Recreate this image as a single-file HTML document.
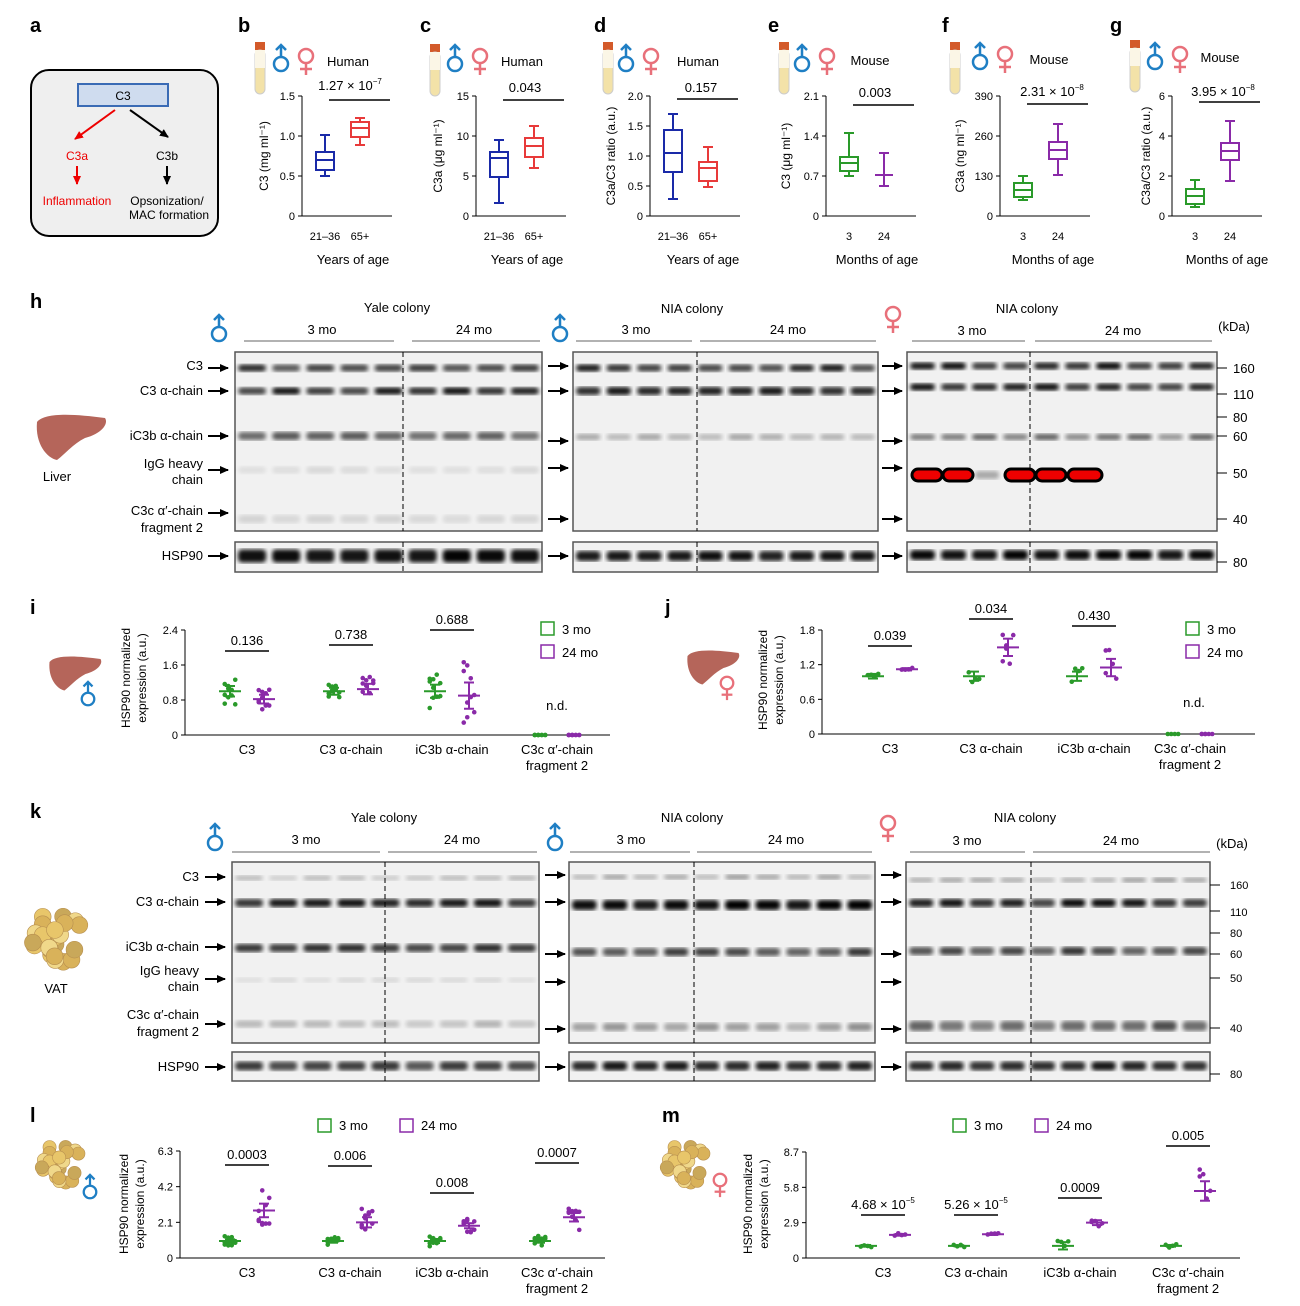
<!DOCTYPE html><html><head><meta charset="utf-8"><style>
body{margin:0;background:#fff}svg{display:block;font-family:"Liberation Sans",sans-serif}
</style></head><body>
<svg id="s" width="1300" height="1306" viewBox="0 0 1300 1306" xmlns="http://www.w3.org/2000/svg">
<defs>
<marker id="ab" markerUnits="userSpaceOnUse" markerWidth="10" markerHeight="10" refX="8" refY="5" orient="auto"><path d="M0,1 L9,5 L0,9z" fill="#000"/></marker>
<marker id="ar" markerUnits="userSpaceOnUse" markerWidth="10" markerHeight="10" refX="8" refY="5" orient="auto"><path d="M0,1 L9,5 L0,9z" fill="#e00"/></marker>
<filter id="bl"><feGaussianBlur stdDeviation="2"/></filter>
</defs>
<g font-weight="bold" font-size="20">
<text x="30" y="32">a</text><text x="238" y="32">b</text><text x="420" y="32">c</text><text x="594" y="32">d</text><text x="768" y="32">e</text><text x="942" y="32">f</text><text x="1110" y="32">g</text>
<text x="30" y="308">h</text><text x="30" y="614">i</text><text x="665" y="614">j</text><text x="30" y="818">k</text><text x="30" y="1122">l</text><text x="662" y="1122">m</text>
</g>
<rect x="31" y="70" width="187" height="166" rx="18" fill="#efefef" stroke="#000" stroke-width="2"/>
<rect x="78" y="84" width="90" height="22" fill="#cfdcef" stroke="#3a6bb5" stroke-width="2"/>
<text x="123" y="100" font-size="12" text-anchor="middle">C3</text>
<line x1="115" y1="110" x2="75" y2="139" stroke="#e00" stroke-width="2" marker-end="url(#ar)"/>
<line x1="130" y1="110" x2="168" y2="137" stroke="#000" stroke-width="2" marker-end="url(#ab)"/>
<g font-size="12" text-anchor="middle"><text x="77" y="160" fill="#e00">C3a</text><text x="167" y="160">C3b</text>
<text x="77" y="205" fill="#e00">Inflammation</text><text x="167" y="205">Opsonization/</text><text x="169" y="219">MAC formation</text></g>
<line x1="77" y1="166" x2="77" y2="184" stroke="#e00" stroke-width="2" marker-end="url(#ar)"/>
<line x1="167" y1="166" x2="167" y2="184" stroke="#000" stroke-width="2" marker-end="url(#ab)"/>
<g id="dyn"></g>
<g font-size="13" text-anchor="middle">
<text x="353" y="264">Years of age</text><text x="527" y="264">Years of age</text><text x="703" y="264">Years of age</text>
<text x="877" y="264">Months of age</text><text x="1053" y="264">Months of age</text><text x="1227" y="264">Months of age</text>
<text x="348" y="66">Human</text><text x="522" y="66">Human</text><text x="698" y="66">Human</text><text x="870" y="65">Mouse</text><text x="1049" y="64">Mouse</text><text x="1220" y="62">Mouse</text>
<text x="350" y="90">1.27 × 10<tspan font-size="8" dy="-6">−7</tspan></text><text x="525" y="92">0.043</text><text x="701" y="92">0.157</text><text x="875" y="97">0.003</text><text x="1052" y="96">2.31 × 10<tspan font-size="8" dy="-6">−8</tspan></text><text x="1223" y="96">3.95 × 10<tspan font-size="8" dy="-6">−8</tspan></text>
</g>
<g font-size="12" text-anchor="middle">
<text transform="translate(268,156) rotate(-90)">C3 (mg ml⁻¹)</text><text transform="translate(442,156) rotate(-90)">C3a (μg ml⁻¹)</text><text transform="translate(615,156) rotate(-90)">C3a/C3 ratio (a.u.)</text>
<text transform="translate(790,156) rotate(-90)">C3 (μg ml⁻¹)</text><text transform="translate(964,156) rotate(-90)">C3a (ng ml⁻¹)</text><text transform="translate(1150,156) rotate(-90)">C3a/C3 ratio (a.u.)</text>
<text transform="translate(130,678) rotate(-90)">HSP90 normalized</text><text transform="translate(146,678) rotate(-90)">expression (a.u.)</text>
<text transform="translate(767,680) rotate(-90)">HSP90 normalized</text><text transform="translate(783,680) rotate(-90)">expression (a.u.)</text>
<text transform="translate(128,1204) rotate(-90)">HSP90 normalized</text><text transform="translate(144,1204) rotate(-90)">expression (a.u.)</text>
<text transform="translate(752,1204) rotate(-90)">HSP90 normalized</text><text transform="translate(768,1204) rotate(-90)">expression (a.u.)</text>
</g>
<g font-size="13" text-anchor="middle">
<text x="397" y="312">Yale colony</text><text x="692" y="313">NIA colony</text><text x="1027" y="313">NIA colony</text>
<text x="322" y="334">3 mo</text><text x="474" y="334">24 mo</text><text x="636" y="334">3 mo</text><text x="788" y="334">24 mo</text><text x="972" y="335">3 mo</text><text x="1123" y="335">24 mo</text><text x="1234" y="331">(kDa)</text>
<text x="384" y="822">Yale colony</text><text x="692" y="822">NIA colony</text><text x="1025" y="822">NIA colony</text>
<text x="306" y="844">3 mo</text><text x="462" y="844">24 mo</text><text x="631" y="844">3 mo</text><text x="786" y="844">24 mo</text><text x="967" y="845">3 mo</text><text x="1121" y="845">24 mo</text><text x="1232" y="848">(kDa)</text>
<text x="57" y="481">Liver</text><text x="56" y="993">VAT</text>
</g>
<g font-size="13" text-anchor="end">
<text x="203" y="370">C3</text><text x="203" y="395">C3 α-chain</text><text x="203" y="440">iC3b α-chain</text><text x="203" y="468">IgG heavy</text><text x="203" y="484">chain</text><text x="203" y="515">C3c α′-chain</text><text x="203" y="532">fragment 2</text><text x="203" y="560">HSP90</text>
<text x="199" y="881">C3</text><text x="199" y="906">C3 α-chain</text><text x="199" y="951">iC3b α-chain</text><text x="199" y="975">IgG heavy</text><text x="199" y="991">chain</text><text x="199" y="1019">C3c α′-chain</text><text x="199" y="1036">fragment 2</text><text x="199" y="1071">HSP90</text>
</g>
<g font-size="13"><text x="1233" y="373">160</text><text x="1233" y="399">110</text><text x="1233" y="422">80</text><text x="1233" y="441">60</text><text x="1233" y="478">50</text><text x="1233" y="524">40</text><text x="1233" y="567">80</text></g>
<g font-size="11"><text x="1230" y="889">160</text><text x="1230" y="916">110</text><text x="1230" y="937">80</text><text x="1230" y="958">60</text><text x="1230" y="982">50</text><text x="1230" y="1032">40</text><text x="1230" y="1078">80</text></g>
<g font-size="13">
<rect x="541" y="622" width="13" height="13" fill="none" stroke="#2a9a2a" stroke-width="1.5"/><text x="562" y="634">3 mo</text>
<rect x="541" y="645" width="13" height="13" fill="none" stroke="#8a2aa8" stroke-width="1.5"/><text x="562" y="657">24 mo</text>
<rect x="1186" y="622" width="13" height="13" fill="none" stroke="#2a9a2a" stroke-width="1.5"/><text x="1207" y="634">3 mo</text>
<rect x="1186" y="645" width="13" height="13" fill="none" stroke="#8a2aa8" stroke-width="1.5"/><text x="1207" y="657">24 mo</text>
<rect x="318" y="1119" width="13" height="13" fill="none" stroke="#2a9a2a" stroke-width="1.5"/><text x="339" y="1130">3 mo</text>
<rect x="400" y="1119" width="13" height="13" fill="none" stroke="#8a2aa8" stroke-width="1.5"/><text x="421" y="1130">24 mo</text>
<rect x="953" y="1119" width="13" height="13" fill="none" stroke="#2a9a2a" stroke-width="1.5"/><text x="974" y="1130">3 mo</text>
<rect x="1035" y="1119" width="13" height="13" fill="none" stroke="#8a2aa8" stroke-width="1.5"/><text x="1056" y="1130">24 mo</text>
<text x="557" y="710" text-anchor="middle">n.d.</text><text x="1194" y="707" text-anchor="middle">n.d.</text>
</g>
</svg>
<script>
const S=document.getElementById('dyn');let h='';
const B='#1f7fc4',P='#e8707a',G='#2a9a2a',U='#8a2aa8';
function male(x,y,s){s=s||1;h+=`<g stroke="${B}" stroke-width="${2.5*s}" fill="none"><circle cx="${x}" cy="${y}" r="${7*s}"/><line x1="${x}" y1="${y-7*s}" x2="${x}" y2="${y-19*s}"/><polyline points="${x-5*s},${y-14*s} ${x},${y-19*s} ${x+5*s},${y-14*s}"/></g>`}
function fem(x,y,s){s=s||1;h+=`<g stroke="${P}" stroke-width="${2.5*s}" fill="none"><circle cx="${x}" cy="${y}" r="${7*s}"/><line x1="${x}" y1="${y+7*s}" x2="${x}" y2="${y+19*s}"/><line x1="${x-6*s}" y1="${y+13*s}" x2="${x+6*s}" y2="${y+13*s}"/></g>`}
function tube(x,y){h+=`<rect x="${x}" y="${y}" width="10" height="8" fill="#d35a2a"/><rect x="${x}" y="${y+8}" width="10" height="44" rx="5" fill="#f3e2a8" stroke="#ccc"/><rect x="${x}" y="${y+8}" width="10" height="18" fill="#fbf6e6"/>`}
function t(x,y,s,a,fs){h+=`<text x="${x}" y="${y}" font-size="${fs||11}" text-anchor="${a||'middle'}">${s}</text>`}
function box(ax,top,bot,ticks,lbl,xl,b1,b2,c1,c2,bar){
 h+=`<path d="M${ax},${top} V${bot} H${ax+90}" stroke="#000" fill="none"/>`;
 ticks.forEach((v,i)=>{let y=bot-(bot-top)*i/(ticks.length-1);h+=`<line x1="${ax-4}" x2="${ax}" y1="${y}" y2="${y}" stroke="#000"/>`;t(ax-7,y+4,v,'end')});
 [[ax+23,b1,c1],[ax+58,b2,c2]].forEach(([x,b,c],i)=>{h+=`<g stroke="${c}" stroke-width="2" fill="none"><line x1="${x}" x2="${x}" y1="${b[0]}" y2="${b[4]}"/><line x1="${x-5}" x2="${x+5}" y1="${b[0]}" y2="${b[0]}"/><line x1="${x-5}" x2="${x+5}" y1="${b[4]}" y2="${b[4]}"/><rect x="${x-9}" y="${b[1]}" width="18" height="${b[3]-b[1]}" fill="#fff"/><line x1="${x-9}" x2="${x+9}" y1="${b[2]}" y2="${b[2]}"/></g>`;t(x,bot+24,xl[i])});
 h+=`<line x1="${ax+27}" x2="${ax+88}" y1="${bar}" y2="${bar}" stroke="#000" stroke-width="1.5"/>`;
}
box(302,96,216,['0','0.5','1.0','1.5'],'',['21–36','65+'],[135,152,160,170,176],[118,122,128,137,145],'#1a2aa8','#e83a3a',100);
box(476,96,216,['0','5','10','15'],'',['21–36','65+'],[140,152,158,177,203],[126,138,146,157,168],'#1a2aa8','#e83a3a',100);
box(650,96,216,['0','0.5','1.0','1.5','2.0'],'',['21–36','65+'],[114,130,153,172,199],[147,162,168,181,187],'#1a2aa8','#e83a3a',99);
box(826,96,216,['0','0.7','1.4','2.1'],'',['3','24'],[133,157,163,171,176],[153,175,175,175,186],G,U,105);
box(1000,96,216,['0','130','260','390'],'',['3','24'],[176,183,190,197,200],[124,142,150,159,175],G,U,104);
box(1172,96,216,['0','2','4','6'],'',['3','24'],[180,189,196,204,207],[121,143,151,160,181],G,U,102);
[[255,42],[430,44],[603,42],[779,42],[950,42],[1130,40]].forEach(([x,y])=>tube(x,y));
[[281,64],[455,64],[626,64],[802,64],[980,62],[1155,62]].forEach(([x,y])=>{male(x,y);fem(x+25,y-8)});
function rnd(i){let x=Math.sin(i*12.9898)*43758.5;return x-Math.floor(x)}
let seed=1;
function blot(x0,x1,y0,y1,lanes,rows,div){
 h+=`<rect x="${x0}" y="${y0}" width="${x1-x0}" height="${y1-y0}" fill="#f1f1f1" stroke="#555" stroke-width="1.5"/>`;
 let w=(x1-x0)/lanes;
 rows.forEach(([y,th,op,va])=>{for(let i=0;i<lanes;i++){let o=Math.min(1,op*(1-va/2+va*rnd(seed++)));h+=`<rect x="${x0+i*w+3}" y="${y-th/2}" width="${w-6}" height="${th}" rx="4" fill="#000" opacity="${o.toFixed(2)}" filter="url(#bl)"/>`}});
 if(div)h+=`<line x1="${div}" x2="${div}" y1="${y0}" y2="${y1}" stroke="#000" stroke-dasharray="5,3"/>`;
}
function ar(x,y){h+=`<line x1="${x}" x2="${x+20}" y1="${y}" y2="${y}" stroke="#000" stroke-width="2" marker-end="url(#ab)"/>`}
const hr=[[368,7,.75,.3],[391,7,.85,.3],[436,8,.6,.3],[470,7,.08,.5],[519,8,.1,.5]];
blot(235,542,352,531,9,hr,403);blot(235,542,542,572,9,[[556,13,.95,.1]],403);
blot(573,878,352,531,10,[[368,7,.8,.3],[391,8,.9,.2],[437,6,.3,.5]],697);blot(573,878,542,572,10,[[556,10,.9,.1]],697);
blot(907,1217,352,531,10,[[366,7,.85,.3],[387,7,.85,.3],[437,6,.5,.5]],1030);blot(907,1217,542,572,10,[[555,10,.95,.1]],1030);
[912,943,1005,1036,1068].forEach((x,i)=>{h+=`<rect x="${x}" y="469" width="${[30,30,30,30,34][i]}" height="12" rx="6" fill="#e00" stroke="#000" stroke-width="3"/>`});
h+=`<rect x="975" y="471" width="24" height="8" rx="3" fill="#000" opacity=".3" filter="url(#bl)"/>`;
[368,391,436,470,513,556].forEach(y=>{ar(208,y);});[366,391,441,468,519,556].forEach(y=>{ar(548,y);ar(882,y)});
const kr=[[878,5,.2,.6],[903,8,.85,.2],[948,8,.75,.2],[980,5,.1,.5],[1024,7,.2,.6]];
blot(232,539,862,1043,9,kr,385);blot(232,539,1052,1081,9,[[1066,9,.7,.2]],385);
blot(569,875,862,1043,10,[[877,5,.3,.6],[905,10,.95,.2],[952,8,.7,.3],[1027,8,.35,.6]],694);blot(569,875,1052,1081,10,[[1066,9,.85,.2]],694);
blot(906,1210,862,1043,10,[[880,5,.3,.6],[903,8,.85,.3],[951,8,.7,.3],[1026,10,.55,.6]],1031);blot(906,1210,1052,1081,10,[[1066,9,.85,.2]],1031);
[877,902,947,979,1024,1067].forEach(y=>ar(205,y));[875,902,954,982,1029,1067].forEach(y=>{ar(545,y);ar(881,y)});
[368,394,417,436,473,519,562].forEach(y=>h+=`<line x1="1217" x2="1227" y1="${y}" y2="${y}" stroke="#000"/>`);
[885,911,933,954,978,1028,1074].forEach(y=>h+=`<line x1="1210" x2="1220" y1="${y}" y2="${y}" stroke="#000"/>`);
[[244,394],[412,540],[576,692],[700,876],[912,1025],[1035,1212]].forEach(([a,b])=>h+=`<line x1="${a}" x2="${b}" y1="341" y2="341" stroke="#666"/>`);
[[232,380],[388,537],[570,690],[697,872],[910,1025],[1033,1210]].forEach(([a,b])=>h+=`<line x1="${a}" x2="${b}" y1="852" y2="852" stroke="#666"/>`);
male(219,334);male(560,334);fem(893,314);male(215,843);male(555,843);fem(888,823);
function liver(x,y,s){h+=`<path transform="translate(${x},${y}) scale(${s})" d="M2,8 C10,-2 40,0 70,4 C74,10 66,20 50,24 C38,30 30,40 22,46 C12,44 0,30 2,8z" fill="#b5655a"/>`}
liver(35,414,1);liver(48,656,.75);liver(686,650,.75);
function vat(x,y,r){for(let i=0;i<26;i++){let a=rnd(i+500)*6.28,d=rnd(i+700)*r;h+=`<circle cx="${x+Math.cos(a)*d}" cy="${y+Math.sin(a)*d}" r="${r*.3}" fill="${['#e8c66a','#d9b25a','#f0d88a','#c9a85a'][i%4]}" stroke="#b89050" stroke-width=".6"/>`}}
vat(56,937,28);vat(60,1163,22);vat(685,1163,22);
male(88,699,.9);fem(727,683,.9);male(90,1192,.9);fem(720,1180,.9);
function dots(ax,top,bot,right,ticks,groups){
 h+=`<path d="M${ax},${top} V${bot} H${right}" stroke="#000" fill="none"/>`;
 ticks.forEach((v,i)=>{let y=bot-(bot-top)*i/(ticks.length-1);h+=`<line x1="${ax-4}" x2="${ax}" y1="${y}" y2="${y}" stroke="#000"/>`;t(ax-7,y+4,v,'end')});
 const mx=ticks[ticks.length-1];const Y=v=>bot-(bot-top)*v/mx;
 groups.forEach(([gx,lab,g,p,pv,n1,n2,nd])=>{
  [[gx-17,g,G,n1],[gx+17,p,U,n2]].forEach(([cx,[m,sd,se],c,n])=>{
   for(let i=0;i<n;i++){let v=nd?0:m+(rnd(seed++)-.5)*2*sd;let dx=(i%4-1.5)*3.5;h+=`<circle cx="${cx+dx}" cy="${Y(v)}" r="2.3" fill="${c}"/>`}
   if(!nd)h+=`<g stroke="${c}" stroke-width="2"><line x1="${cx-11}" x2="${cx+11}" y1="${Y(m)}" y2="${Y(m)}"/><line x1="${cx}" x2="${cx}" y1="${Y(m-se)}" y2="${Y(m+se)}"/><line x1="${cx-5}" x2="${cx+5}" y1="${Y(m-se)}" y2="${Y(m-se)}"/><line x1="${cx-5}" x2="${cx+5}" y1="${Y(m+se)}" y2="${Y(m+se)}"/></g>`;
  });
  if(pv){h+=`<line x1="${gx-22}" x2="${gx+22}" y1="${pv[1]}" y2="${pv[1]}" stroke="#000" stroke-width="1.5"/><text x="${gx}" y="${pv[1]-6}" font-size="13" text-anchor="middle">${pv[0]}</text>`}
  lab.forEach((l,i)=>t(gx,bot+19+i*16,l,'middle',13));
 });
}
dots(185,630,735,610,['0','0.8','1.6','2.4'],[[247,['C3'],[1,.3,.12],[.82,.3,.1],['0.136',651],10,10],[351,['C3 α-chain'],[1,.15,.08],[1.05,.3,.12],['0.738',645],10,10],[452,['iC3b α-chain'],[1,.4,.15],[.9,.9,.3],['0.688',630],10,10],[557,['C3c α′-chain','fragment 2'],[0,0,0],[0,0,0],null,10,10,1]]);
dots(822,630,734,1255,['0','0.6','1.2','1.8'],[[890,['C3'],[1,.06,.04],[1.12,.03,.02],['0.039',646],4,4],[991,['C3 α-chain'],[1,.15,.08],[1.5,.35,.15],['0.034',619],4,6],[1094,['iC3b α-chain'],[1,.15,.08],[1.15,.4,.15],['0.430',626],4,5],[1190,['C3c α′-chain','fragment 2'],[0,0,0],[0,0,0],null,4,6,1]]);
dots(180,1151,1258,605,['0','2.1','4.2','6.3'],[[247,['C3'],[1,.3,.1],[2.8,1.3,.4],['0.0003',1165],10,10],[350,['C3 α-chain'],[1,.3,.1],[2.1,.8,.3],['0.006',1166],10,10],[452,['iC3b α-chain'],[1,.35,.12],[1.9,.4,.15],['0.008',1193],10,10],[557,['C3c α′-chain','fragment 2'],[1,.3,.1],[2.4,.8,.25],['0.0007',1163],10,10]]);
dots(806,1152,1258,1240,['0','2.9','5.8','8.7'],[[883,['C3'],[1,.15,.07],[1.9,.15,.07],['4.68 × 10<tspan font-size="8" dy="-6">−5</tspan>',1215],4,4],[976,['C3 α-chain'],[1,.1,.05],[1.95,.12,.06],['5.26 × 10<tspan font-size="8" dy="-6">−5</tspan>',1215],4,4],[1080,['iC3b α-chain'],[1,.5,.3],[2.9,.5,.2],['0.0009',1198],4,5],[1188,['C3c α′-chain','fragment 2'],[1,.15,.07],[5.5,2,.8],['0.005',1146],4,5]]);
S.innerHTML=h;
</script>
</body></html>
